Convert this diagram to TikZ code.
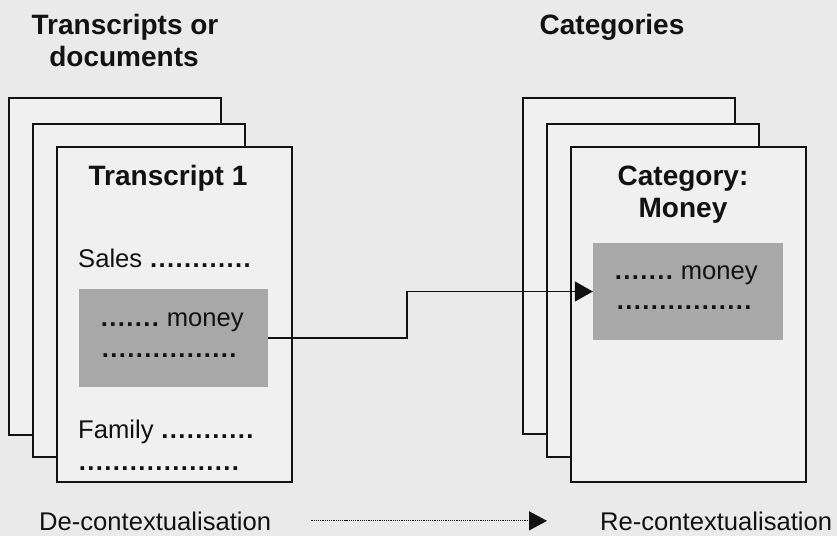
\documentclass[tikz,border=0pt]{standalone}
\usepackage{fontspec}
\setmainfont{Liberation Sans}
\usetikzlibrary{arrows.meta}

\definecolor{pagebg}{RGB}{234,234,234}
\definecolor{sheetfill}{RGB}{240,240,240}
\definecolor{boxfill}{RGB}{168,168,168}
\definecolor{ink}{RGB}{18,18,18}

% a run of evenly spaced dots
\newcommand\dotrun[1]{\foreach\k in {1,...,#1}{\makebox[8.5bp][c]{\bfseries .}}}

\tikzset{
  sheet/.style={draw=ink, line width=1.8bp, fill=sheetfill},
  greybox/.style={fill=boxfill, draw=none, inner sep=0pt},
  bigtitle/.style={font=\bfseries\fontsize{28bp}{32bp}\selectfont, text=ink, inner sep=0pt, anchor=base},
  bodytext/.style={font=\fontsize{25.6bp}{30bp}\selectfont, text=ink, inner sep=0pt, anchor=base west},
  link/.style={draw=ink, line width=1.8bp, -{Triangle[length=18bp, width=20bp]}},
  flowarrow/.style={draw=ink, line width=1.2bp, densely dotted, -{Triangle[length=18bp, width=19bp]}}
}

\begin{document}
\begin{tikzpicture}[x=1bp, y=-1bp]
  \fill[pagebg] (0,0) rectangle (837,536);
  \useasboundingbox (0,0) rectangle (837,536);

  % headings
  \node[bigtitle] (hdocA) at (125,35) {Transcripts or};
  \node[bigtitle] (hdocB) at (124,67) {documents};
  \node[bigtitle] (hcat) at (612,35) {Categories};

  % stack of transcripts
  \draw[sheet] (9,98) rectangle (221,435);
  \draw[sheet] (33,124) rectangle (245,457);
  \draw[sheet] (57,147) rectangle (292,482);

  \node[bigtitle] (ttitle) at (168,186) {Transcript 1};
  \node[bodytext] (sales) at (78,268) {Sales \dotrun{12}};
  \node[greybox, minimum width=189bp, minimum height=98bp] (lbox) at (173.5,338) {};
  \node[bodytext] (lmoney) at (100,327) {\dotrun{7} money};
  \node[bodytext] (ldots) at (101,357) {\dotrun{16}};
  \node[bodytext] (family) at (78,438) {Family \dotrun{11}};
  \node[bodytext] (fdots) at (78,470) {\dotrun{19}};

  % stack of categories
  \draw[sheet] (523,98) rectangle (735,434);
  \draw[sheet] (547,124) rectangle (759,457);
  \draw[sheet] (571,147) rectangle (806,482);

  \node[bigtitle] (ctitleA) at (683,186) {Category:};
  \node[bigtitle] (ctitleB) at (683,218) {Money};
  \node[greybox, minimum width=190bp, minimum height=97bp] (rbox) at (688,291.5) {};
  \node[bodytext] (rmoney) at (614,280) {\dotrun{7} money};
  \node[bodytext] (rdots) at (616,310) {\dotrun{16}};

  % coding link from transcript passage to category
  \draw[link] (lbox.east) -- ++(139,0) |- (rbox.west);

  % process labels
  \node[bodytext] (decon) at (39,530) {De-contextualisation};
  \node[bodytext] (recon) at (600,530) {Re-contextualisation};
  \draw[flowarrow, shorten <=40bp, shorten >=53bp] (decon.east) -- (recon.west);
\end{tikzpicture}
\end{document}
